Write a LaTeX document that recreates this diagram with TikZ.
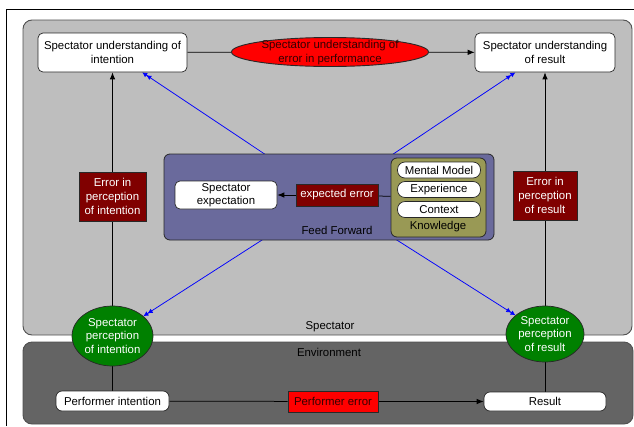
\documentclass[tikz,border=0pt]{standalone}
\usepackage{fontspec}
\setmainfont{Liberation Sans}
\usetikzlibrary{shapes.geometric,arrows.meta}
\pgfdeclarelayer{regions}
\pgfdeclarelayer{bluelayer}
\pgfdeclarelayer{fflayer}
\pgfdeclarelayer{edges}
\pgfsetlayers{regions,bluelayer,fflayer,edges,main}
\definecolor{specbg}{RGB}{190,190,190}
\definecolor{envbg}{RGB}{100,100,100}
\definecolor{ffbg}{RGB}{106,106,156}
\definecolor{knbg}{RGB}{153,153,85}
\definecolor{darkred}{RGB}{128,0,0}
\definecolor{mygreen}{RGB}{0,128,0}
\definecolor{bord}{RGB}{40,40,40}
\definecolor{regbord}{RGB}{80,80,80}
\tikzset{
  txt/.style={font=\fontsize{11.4}{13.6}\selectfont, align=center, inner sep=0pt},
  whitebox/.style={txt, draw=bord, fill=white, rounded corners=5pt, line width=0.7pt},
  pillbox/.style={txt, draw=bord, fill=white, rounded corners=7.5pt, line width=0.7pt},
  errbox/.style={txt, draw=bord, fill=darkred, text=white, line width=0.7pt},
  redbox/.style={txt, draw=bord, fill=red, line width=0.7pt},
  greenell/.style={txt, ellipse, draw=bord, fill=mygreen, text=white, line width=0.7pt},
  region/.style={draw=regbord, line width=0.9pt, rounded corners=9pt},
  conn/.style={draw=black, line width=0.75pt},
  arr/.style={conn, -{Latex[length=7pt,width=5.5pt]}},
  bluearr/.style={draw=blue, line width=0.75pt, -{Latex[length=5pt,width=5pt]Latex[length=5pt,width=5pt]}}
}
\begin{document}
\begin{tikzpicture}[x=1pt,y=-1pt]
\useasboundingbox (0,0) rectangle (634,426);
% outer frame
\draw[black, line width=0.9pt] (6,426) -- (6,9) -- (634,9);
% regions
\begin{pgfonlayer}{regions}
\node[region, fill=specbg, minimum width=609pt, minimum height=315pt, inner sep=0pt] (spectator) at (327.5,177.5) {};
\node[region, fill=envbg, minimum width=610pt, minimum height=82pt, inner sep=0pt] (environment) at (328,383) {};
\end{pgfonlayer}
\node[txt] (speclabel) at (330,327) {Spectator};
\node[txt] (envlabel) at (329,352) {Environment};

% top row
\node[whitebox, minimum width=149pt, minimum height=39pt] (sui) at (112.5,52.5) {Spectator understanding of\\intention};
\node[ellipse, draw=bord, fill=red, line width=0.9pt, minimum width=197pt, minimum height=29pt, inner sep=0pt] (sue) at (330,52) {};
\node[txt, text=black!80!red] (suetext) at (330,52.5) {Spectator understanding of\\error in performance};
\node[whitebox, minimum width=140pt, minimum height=39pt] (sur) at (545,52.5) {Spectator understanding\\of result};

% feed forward
\begin{pgfonlayer}{fflayer}
\node[draw=bord, fill=ffbg, line width=0.8pt, rounded corners=6pt, minimum width=330pt, minimum height=86pt, inner sep=0pt] (ff) at (329,197) {};
\end{pgfonlayer}
\node[txt] (fflabel) at (337,230.5) {Feed Forward};
\node[draw=bord, fill=knbg, line width=0.8pt, rounded corners=6pt, minimum width=95pt, minimum height=79pt, inner sep=0pt] (kn) at (438.5,197.5) {};
\node[txt] (knlabel) at (438,226.5) {Knowledge};
\node[pillbox, minimum width=83pt, minimum height=16pt] (mm) at (439,170) {Mental Model};
\node[pillbox, minimum width=83pt, minimum height=16pt] (exp) at (439,189.5) {Experience};
\node[pillbox, minimum width=83pt, minimum height=16pt] (ctx) at (439,209.5) {Context};
\node[errbox, minimum width=82pt, minimum height=22pt] (experr) at (337,195) {expected error};
\node[whitebox, minimum width=102pt, minimum height=28pt] (sexp) at (226,195) {Spectator\\expectation};

% error in perception
\node[errbox, minimum width=67pt, minimum height=49pt] (epi) at (112.5,196.5) {Error in\\perception\\of intention};
\node[errbox, minimum width=64pt, minimum height=49pt] (epr) at (545,195.5) {Error in\\perception\\of result};

% perception ellipses
\node[greenell, minimum width=81pt, minimum height=60pt] (spi) at (112.5,336) {Spectator\\perception\\of intention};
\node[greenell, minimum width=78pt, minimum height=56pt] (spr) at (545,334) {Spectator\\perception\\of result};

% environment row
\node[pillbox, minimum width=113pt, minimum height=20pt, rounded corners=6pt] (pint) at (112.5,401) {Performer intention};
\node[redbox, minimum width=90pt, minimum height=21pt, text=black!80!red] (perr) at (333,401.5) {Performer error};
\node[pillbox, minimum width=122pt, minimum height=19pt, rounded corners=6pt] (res) at (545,401.5) {Result};

% blue connectors
\begin{pgfonlayer}{bluelayer}
\draw[bluearr] (ff.center) -- (sui);
\draw[bluearr] (ff.center) -- (sur);
\draw[bluearr] (ff.center) -- (spi);
\draw[bluearr] (ff.center) -- (spr);
\end{pgfonlayer}

% black connectors
\begin{pgfonlayer}{edges}
\draw[conn] (sui) -- (sue);
\draw[arr] (sue) -- (sur);
\draw[arr] (spi) -- (sui);
\draw[arr] (spr) -- (sur);
\draw[conn] (pint) -- (spi);
\draw[conn] (res) -- (spr);
\draw[conn] (pint) -- (perr);
\draw[arr] (perr) -- (res);
\draw[conn] (kn) -- (experr);
\draw[arr] (experr) -- (sexp);
\end{pgfonlayer}
\end{tikzpicture}
\end{document}
